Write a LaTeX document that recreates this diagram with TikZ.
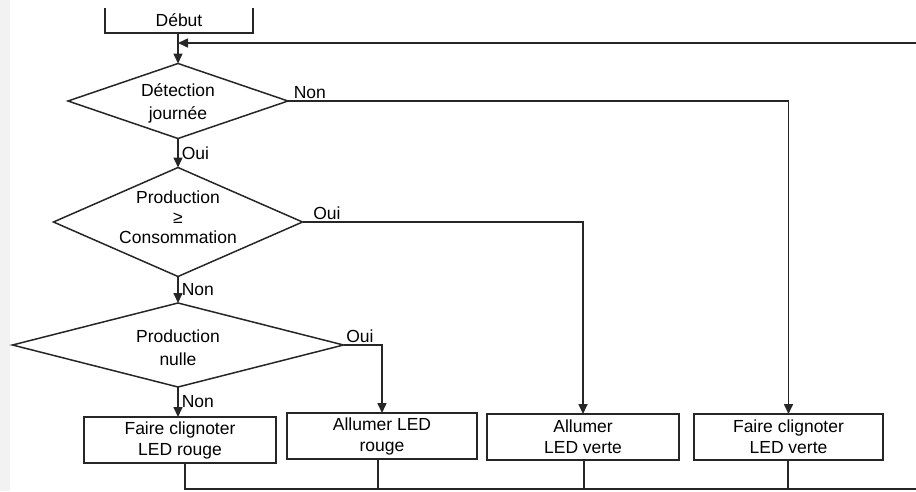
\documentclass[tikz,border=0pt]{standalone}
\usepackage{fontspec}
\setmainfont{Liberation Sans}
\usetikzlibrary{shapes.geometric,arrows.meta}
\begin{document}
\begin{tikzpicture}[x=1pt,y=-1pt,
  every node/.style={font=\fontsize{17.5}{21}\selectfont, text=black},
  ln/.style={draw=black!85, line width=1.6pt},
  arr/.style={ln, -{Triangle[length=10pt,width=9pt]}},
  dia/.style={diamond, draw=black!85, line width=1.5pt, inner sep=0pt, outer sep=0pt},
  lbl/.style={align=center, inner sep=0pt},
  tag/.style={inner sep=1pt},
  proc/.style={draw=black!85, line width=1.5pt, rectangle, inner sep=0pt, outer sep=0pt,
    minimum height=46pt, align=center}]
\useasboundingbox (0,0) rectangle (916,491);
\fill[black!5] (0,0) rectangle (10,491);

% Debut (box cut at the top)
\draw[draw=black!85, line width=1.5pt] (105,8) -- (105,33) -- (253,33) -- (253,8);
\node[lbl] (debut) at (179,20) {Début};
\coordinate (debutb) at (178,33);

% decisions
\node[dia, minimum width=220pt, minimum height=75pt] (d1) at (178,101) {};
\node[lbl, font=\fontsize{17.5}{23}\selectfont] (t1) at (178,103) {Détection\\journée};
\node[dia, minimum width=249pt, minimum height=109pt] (d2) at (178,222) {};
\node[lbl, font=\fontsize{17.5}{20}\selectfont] (t2) at (178,217) {Production\\≥\\Consommation};
\node[dia, minimum width=331pt, minimum height=84pt] (d3) at (178,345) {};
\node[lbl, font=\fontsize{17.5}{23}\selectfont] (t3) at (178,348) {Production\\nulle};

% actions
\node[proc, minimum width=192pt] (b1) at (180,440) {Faire clignoter\\LED rouge};
\node[proc, minimum width=190pt] (b2) at (382,436) {Allumer LED\\rouge};
\node[proc, minimum width=192pt] (b3) at (583,437) {Allumer\\LED verte};
\node[proc, minimum width=189pt] (b4) at (788.5,437) {Faire clignoter\\LED verte};

% loop back
\coordinate (fb) at (916,43);
\coordinate (merge) at (178,43);
\draw[arr] (debutb) -- (d1.north);
\draw[arr] (fb) -- (merge);

% flow
\draw[arr] (d1.south) -- node[tag, right, xshift=2pt] (oui1) {Oui} (d2.north);
\draw[arr] (d2.south) -- node[tag, right, xshift=2pt] (non2) {Non} (d3.north);
\draw[arr] (d3.south) -- node[tag, right, xshift=2pt] (non3) {Non} (d3.south |- b1.north);

\draw[arr] (d1.east) -| node[tag, pos=0.0, anchor=south west, xshift=4pt, yshift=1pt] (non1) {Non} (b4.north);
\draw[arr] (d2.east) -| node[tag, pos=0.0, anchor=south west, xshift=9pt, yshift=1pt] (oui2) {Oui} (b3.north);
\draw[arr] (d3.east) -| node[tag, pos=0.0, anchor=south west, xshift=1pt, yshift=1pt] (oui3) {Oui} (b2.north);

% bottom continuation
\coordinate (e1) at (185,489);
\coordinate (e2) at (378,489);
\coordinate (e3) at (584,489);
\coordinate (e4) at (788,489);
\coordinate (eend) at (916,489);
\draw[ln, line width=1.1pt] (b1.south -| e1) -- (e1) -- (eend);
\draw[ln, line width=1.1pt] (b2.south -| e2) -- (e2);
\draw[ln, line width=1.1pt] (b3.south -| e3) -- (e3);
\draw[ln, line width=1.1pt] (b4.south -| e4) -- (e4);
\end{tikzpicture}
\end{document}
